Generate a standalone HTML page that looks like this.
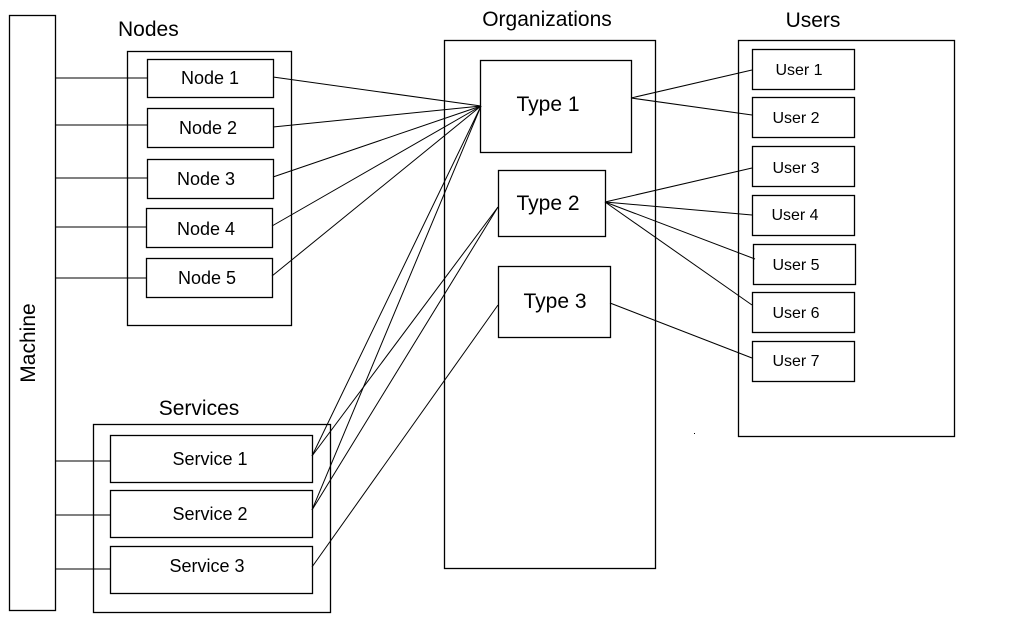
<!DOCTYPE html>
<html><head><style>
html,body{margin:0;padding:0;background:#fff;width:1024px;height:640px;overflow:hidden}
svg text{font-family:"Liberation Sans",Arial,sans-serif;fill:#000}
</style></head><body>
<svg width="1024" height="640" viewBox="0 0 1024 640" xmlns="http://www.w3.org/2000/svg">
<g fill="none" stroke="#000" stroke-width="1.3">
<rect x="9.5" y="15.5" width="46" height="595"/>
<rect x="127.5" y="51.5" width="164" height="274"/>
<rect x="147.5" y="59.5" width="126" height="38"/>
<rect x="147.5" y="108.5" width="126" height="39"/>
<rect x="147.5" y="159.5" width="126" height="39"/>
<rect x="146.5" y="208.5" width="126" height="39"/>
<rect x="146.5" y="258.5" width="126" height="39"/>
<rect x="93.5" y="424.5" width="237" height="188"/>
<rect x="110.5" y="435.5" width="202" height="47"/>
<rect x="110.5" y="490.5" width="202" height="47"/>
<rect x="110.5" y="546.5" width="202" height="47"/>
<rect x="444.5" y="40.5" width="211" height="528"/>
<rect x="480.5" y="60.5" width="151" height="92"/>
<rect x="498.5" y="170.5" width="107" height="66"/>
<rect x="498.5" y="266.5" width="112" height="71"/>
<rect x="738.5" y="40.5" width="216" height="396"/>
<rect x="752.5" y="49.5" width="102" height="40"/>
<rect x="752.5" y="97.5" width="102" height="40"/>
<rect x="752.5" y="146.5" width="102" height="40"/>
<rect x="752.5" y="195.5" width="102" height="40"/>
<rect x="753.5" y="244.5" width="102" height="40"/>
<rect x="752.5" y="292.5" width="102" height="40"/>
<rect x="752.5" y="341.5" width="102" height="40"/>
</g>
<g stroke="#000" stroke-width="1">
<line x1="55" y1="78" x2="147" y2="78"/>
<line x1="55" y1="125" x2="147" y2="125"/>
<line x1="55" y1="178" x2="147" y2="178"/>
<line x1="55" y1="227" x2="146" y2="227"/>
<line x1="55" y1="278" x2="146" y2="278"/>
<line x1="55" y1="461" x2="110" y2="461"/>
<line x1="55" y1="515" x2="110" y2="515"/>
<line x1="55" y1="569" x2="110" y2="569"/>
<line x1="273" y1="77" x2="481" y2="106"/>
<line x1="273" y1="127" x2="481" y2="106"/>
<line x1="273" y1="177" x2="481" y2="106"/>
<line x1="272" y1="226" x2="481" y2="106"/>
<line x1="272" y1="276" x2="481" y2="106"/>
<line x1="312" y1="456" x2="481" y2="106"/>
<line x1="312" y1="510" x2="481" y2="106"/>
<line x1="312" y1="456" x2="498" y2="207"/>
<line x1="312" y1="510" x2="498" y2="207"/>
<line x1="312" y1="567" x2="498" y2="305"/>
<line x1="631" y1="98" x2="752" y2="70"/>
<line x1="631" y1="98" x2="752" y2="115"/>
<line x1="605" y1="202" x2="752" y2="168"/>
<line x1="605" y1="202" x2="752" y2="215"/>
<line x1="605" y1="202" x2="755" y2="259"/>
<line x1="605" y1="202" x2="752" y2="305"/>
<line x1="610" y1="303" x2="752" y2="358"/>
</g>
<g font-size="21">
<text x="118" y="36">Nodes</text>
<text x="547" y="26" text-anchor="middle">Organizations</text>
<text x="813" y="27" text-anchor="middle">Users</text>
<text x="199" y="415" text-anchor="middle">Services</text>
<text transform="translate(35,343) rotate(-90)" text-anchor="middle">Machine</text>
</g>
<g font-size="18" text-anchor="middle">
<text x="210" y="84">Node 1</text>
<text x="208" y="134">Node 2</text>
<text x="206" y="185">Node 3</text>
<text x="206" y="235">Node 4</text>
<text x="207" y="284">Node 5</text>
<text x="210" y="465">Service 1</text>
<text x="210" y="520">Service 2</text>
<text x="207" y="572">Service 3</text>
</g>
<g font-size="21" text-anchor="middle">
<text x="548" y="111">Type 1</text>
<text x="548" y="210">Type 2</text>
<text x="555" y="308">Type 3</text>
</g>
<g font-size="16" text-anchor="middle">
<text x="799" y="75">User 1</text>
<text x="796" y="123">User 2</text>
<text x="796" y="173">User 3</text>
<text x="795" y="220">User 4</text>
<text x="796" y="270">User 5</text>
<text x="796" y="318">User 6</text>
<text x="796" y="366">User 7</text>
</g>
<rect x="694" y="433" width="1" height="1" fill="#000"/>
</svg>
</body></html>
